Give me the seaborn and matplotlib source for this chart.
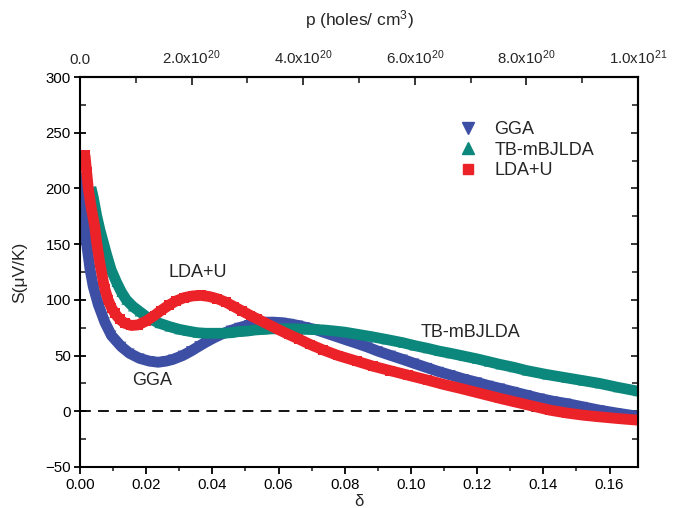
import numpy as np
import pandas as pd
import matplotlib
matplotlib.use("Agg")
import matplotlib.pyplot as plt
from matplotlib.ticker import MultipleLocator, FixedLocator, FixedFormatter
from matplotlib.lines import Line2D
import seaborn as sns

# ---------------- data ----------------
gga_delta = [0.0005, 0.001, 0.0018, 0.003, 0.004, 0.0055, 0.0075, 0.0095, 0.0125,
             0.015, 0.018, 0.021, 0.0236, 0.026, 0.028, 0.031, 0.0335, 0.036,
             0.038, 0.0405, 0.043, 0.0455, 0.048, 0.051, 0.0535, 0.056, 0.0585,
             0.061, 0.0634, 0.066, 0.068, 0.071, 0.0735, 0.076, 0.0785, 0.081,
             0.0836, 0.087, 0.09, 0.094, 0.0976, 0.101, 0.105, 0.1085, 0.112,
             0.116, 0.12, 0.1235, 0.127, 0.131, 0.135, 0.139, 0.143, 0.147,
             0.152, 0.157, 0.162, 0.1686]
gga_S = [210, 185, 155, 128, 112, 96, 80, 68, 58,
         52, 47.5, 45, 44, 45, 46.5, 50, 54, 58.5,
         62, 66, 69.5, 72.5, 75, 77.5, 79, 80, 80,
         79.5, 78.5, 77, 75.5, 73.5, 71, 68.5, 66, 63.5,
         61, 57.5, 54, 50, 46.5, 43, 39, 35.5, 32.5,
         29, 26, 23, 20.5, 17.5, 14.5, 11.5, 9, 7,
         4, 1, -1.5, -4.5]

tb_delta = [0.0033, 0.004, 0.005, 0.006, 0.007, 0.008, 0.0094, 0.011, 0.0125,
            0.014, 0.016, 0.018, 0.02, 0.0215, 0.024, 0.027, 0.03, 0.0326,
            0.0355, 0.038, 0.0405, 0.043, 0.0455, 0.048, 0.0505, 0.053, 0.0555,
            0.058, 0.0615, 0.065, 0.069, 0.0735, 0.077, 0.08, 0.084, 0.088,
            0.0925, 0.0976, 0.101, 0.105, 0.1085, 0.112, 0.116, 0.12, 0.1235,
            0.127, 0.131, 0.135, 0.141, 0.147, 0.152, 0.157, 0.1625, 0.1686]
tb_S = [201, 192, 176, 163, 152, 141, 127, 116, 107,
        100, 94, 89.5, 85, 82.5, 79, 76, 73.5, 72,
        70.5, 70, 70, 70, 70.5, 71.5, 72, 73, 73.5,
        74, 74, 74, 73.5, 73, 72, 71, 69, 67,
        64.5, 61.5, 59, 56.5, 54, 52, 49.5, 47, 44.5,
        42, 39.5, 36.5, 33, 30, 27.5, 25, 21.5, 18]

ldau_delta = [0.0015, 0.002, 0.0025, 0.003, 0.0035, 0.004, 0.0045, 0.005, 0.006,
              0.007, 0.0075, 0.0085, 0.0095, 0.0105, 0.012, 0.0135, 0.0155, 0.0175,
              0.02, 0.0225, 0.0245, 0.027, 0.029, 0.0315, 0.034, 0.0365, 0.039,
              0.0415, 0.044, 0.0465, 0.049, 0.0515, 0.0535, 0.0565, 0.0595, 0.063,
              0.066, 0.0695, 0.0735, 0.078, 0.0836, 0.0885, 0.0937, 0.099, 0.105,
              0.11, 0.115, 0.121, 0.127, 0.132, 0.137, 0.142, 0.147, 0.152,
              0.157, 0.1625, 0.1686]
ldau_S = [230, 215, 200, 190, 181, 173, 165, 152, 133,
          117, 110, 100, 93, 88, 82.5, 79, 77, 77.5,
          81, 86, 90.5, 95.5, 99, 102, 103.5, 104, 103,
          101, 98, 94, 90, 86, 83, 78.5, 74, 69,
          65, 60, 55, 50, 45, 40.5, 36.5, 32.5, 28,
          24, 20.5, 16, 11.5, 8, 4.5, 1, -1.5, -3.5,
          -5, -6.5, -8]

series_names = ["GGA", "TB-mBJLDA", "LDA+U"]
series_colors = ["#3d4fa5", "#0b877b", "#ec2229"]
series_markers = ["v", "^", "s"]

x_ticks = [0.00, 0.02, 0.04, 0.06, 0.08, 0.10, 0.12, 0.14, 0.16]
y_ticks = [-50, 0, 50, 100, 150, 200, 250, 300]
top_ticks = [0.0, 2e20, 4e20, 6e20, 8e20, 1e21]
top_labels = ["0.0", "2.0x10$^{20}$", "4.0x10$^{20}$", "6.0x10$^{20}$",
              "8.0x10$^{20}$", "1.0x10$^{21}$"]
DELTA_MAX = 0.1686
P_MAX = 1e21

# ---------------- style ----------------
sns.set_style("ticks")
plt.rcParams["font.family"] = ["Liberation Sans", "DejaVu Sans"]
plt.rcParams["mathtext.fontset"] = "custom"
plt.rcParams["mathtext.rm"] = "Liberation Sans"
plt.rcParams["mathtext.it"] = "Liberation Sans"

W, H = 679, 508
fig = plt.figure(figsize=(W / 100, H / 100), dpi=100)
ax = fig.add_axes([80 / W, 1 - 467 / H, 558 / W, 390 / H])

data = [(gga_delta, gga_S), (tb_delta, tb_S), (ldau_delta, ldau_S)]
for (d, s), name, c, m in zip(data, series_names, series_colors, series_markers):
    df = pd.DataFrame({"delta": d, "S": s})
    sns.lineplot(data=df, x="delta", y="S", color=c, linewidth=7.8, sort=False,
                 ax=ax, legend=False, solid_capstyle="butt", solid_joinstyle="round")
    sns.scatterplot(data=df, x="delta", y="S", color=c, marker=m, s=50,
                    edgecolor="none", ax=ax, legend=False)

ax.axhline(0, color="black", lw=1.3, ls=(0, (6, 4)), zorder=1)

ax.set_xlim(0, DELTA_MAX)
ax.set_ylim(-50, 300)
ax.xaxis.set_major_locator(FixedLocator(x_ticks))
ax.set_xticklabels([f"{v:.2f}" for v in x_ticks])
ax.xaxis.set_minor_locator(MultipleLocator(0.01))
ax.yaxis.set_major_locator(FixedLocator(y_ticks))
ax.yaxis.set_minor_locator(MultipleLocator(25))

for sp in ax.spines.values():
    sp.set_linewidth(1.5)
    sp.set_color("black")

ax.tick_params(axis="x", which="major", direction="out", length=5, width=1.3,
               labelsize=10.8, pad=3, colors="black")
ax.tick_params(axis="x", which="minor", direction="out", length=3, width=1.2)
ax.tick_params(axis="y", which="major", direction="inout", length=9, width=1.3,
               labelsize=10.8, pad=2, colors="black")
ax.tick_params(axis="y", which="minor", direction="in", length=4, width=1.2)

ax.set_xlabel("δ", fontsize=12, labelpad=1)
ax.set_ylabel("S(μV/K)", fontsize=12.5, labelpad=13)

# right axis ticks (inward, no labels)
axr = ax.secondary_yaxis("right")
axr.yaxis.set_major_locator(FixedLocator(y_ticks))
axr.yaxis.set_minor_locator(MultipleLocator(25))
axr.tick_params(which="major", direction="in", length=5, width=1.3, labelright=False)
axr.tick_params(which="minor", direction="in", length=4, width=1.2)
axr.spines["right"].set_linewidth(1.5)

# top axis: carrier concentration
axt = ax.secondary_xaxis("top", functions=(lambda x: x / DELTA_MAX * P_MAX,
                                           lambda p: p / P_MAX * DELTA_MAX))
axt.xaxis.set_major_locator(FixedLocator(top_ticks))
axt.xaxis.set_major_formatter(FixedFormatter(top_labels))
axt.xaxis.set_minor_locator(FixedLocator([1e20, 3e20, 5e20, 7e20, 9e20]))
axt.tick_params(which="major", direction="in", length=6, width=1.3,
                labelsize=10.8, pad=7)
axt.tick_params(which="minor", direction="in", length=4, width=1.2)
axt.spines["top"].set_linewidth(1.5)
axt.set_xlabel("p (holes/ cm$^{3}$)", fontsize=12.5, labelpad=17)

# in-plot labels
ax.text(0.0356, 125, "LDA+U", fontsize=13, ha="center", va="center")
ax.text(0.0218, 28, "GGA", fontsize=13, ha="center", va="center")
ax.text(0.118, 71, "TB-mBJLDA", fontsize=13, ha="center", va="center")

handles = [Line2D([], [], ls="none", marker=m, color=c, markersize=ms)
           for m, c, ms in zip(series_markers, series_colors, [9, 9, 7])]
ax.legend(handles, series_names, loc="upper left", bbox_to_anchor=(450 / W, 1 - 112 / H),
          bbox_transform=fig.transFigure, frameon=False, fontsize=13, borderpad=0,
          handlelength=1.0, handletextpad=0.95, labelspacing=0.2)

fig.savefig("out.png", dpi=100)
